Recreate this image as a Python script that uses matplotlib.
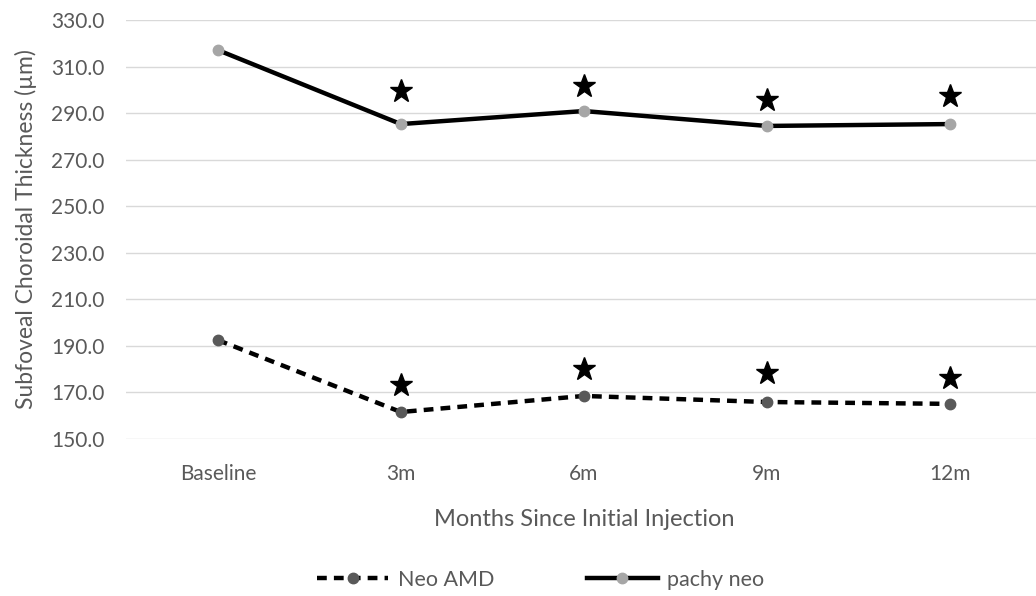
import matplotlib
matplotlib.use("Agg")
import matplotlib.pyplot as plt
from matplotlib.lines import Line2D

months = ["Baseline", "3m", "6m", "9m", "12m"]
neo_amd = [192.5, 161.6, 168.5, 165.9, 165.1]
pachy_neo = [317.1, 285.3, 290.9, 284.5, 285.3]
# significance stars (placed above the follow-up points)
neo_amd_star = [173.2, 180.1, 178.4, 176.3]
pachy_neo_star = [299.5, 301.6, 295.6, 297.4]
yticks = [150, 170, 190, 210, 230, 250, 270, 290, 310, 330]

plt.rcParams['font.family'] = ['Lato', 'DejaVu Sans']
text_grey = '#595959'

fig = plt.figure(figsize=(10.36, 5.96), dpi=100)
ax = fig.add_axes([0.122, 0.2634, 0.883, 0.703])

x = list(range(len(months)))
ax.plot(x, neo_amd, color='black', lw=3.2, ls=(0, (2.2, 1.6)),
        marker='o', ms=7.5, mfc='#595959', mec='#595959', zorder=3)
ax.plot(x, pachy_neo, color='black', lw=3.2,
        marker='o', ms=7.5, mfc='#a6a6a6', mec='#a6a6a6', zorder=3)

ax.plot(x[1:], neo_amd_star, ls='none', marker='*', ms=17, color='black', zorder=4)
ax.plot(x[1:], pachy_neo_star, ls='none', marker='*', ms=17, color='black', zorder=4)

ax.set_xlim(-0.5, len(months) - 0.5)
ax.set_ylim(150, 330)
ax.set_yticks(yticks)
ax.set_yticklabels([f"{v:.1f}" for v in yticks])
ax.set_xticks(x)
ax.set_xticklabels(months)
ax.grid(axis='y', color='#d9d9d9', lw=1)
ax.set_axisbelow(True)
for s in ax.spines.values():
    s.set_visible(False)
ax.tick_params(length=0, labelsize=15, colors=text_grey, pad=16)
ax.tick_params(axis='x', pad=18)

ax.set_xlabel("Months Since Initial Injection", fontsize=17, color=text_grey, labelpad=18)
ax.set_ylabel("Subfoveal Choroidal Thickness (\u00b5m)", fontsize=16.5, color=text_grey, labelpad=10)

handles = [
    Line2D([], [], color='black', lw=3.2, ls=(0, (2.2, 1.6)), marker='o', ms=7.5,
           mfc='#595959', mec='#595959'),
    Line2D([], [], color='black', lw=3.2, marker='o', ms=7.5,
           mfc='#a6a6a6', mec='#a6a6a6'),
]
fig.legend(handles, ["Neo AMD", "pachy neo"], loc='center', bbox_to_anchor=(0.522, 0.027),
           ncol=2, frameon=False, fontsize=15.5, labelcolor=text_grey,
           handlelength=3.3, columnspacing=4.3, handletextpad=0.45)

fig.savefig("out.png", dpi=100)
